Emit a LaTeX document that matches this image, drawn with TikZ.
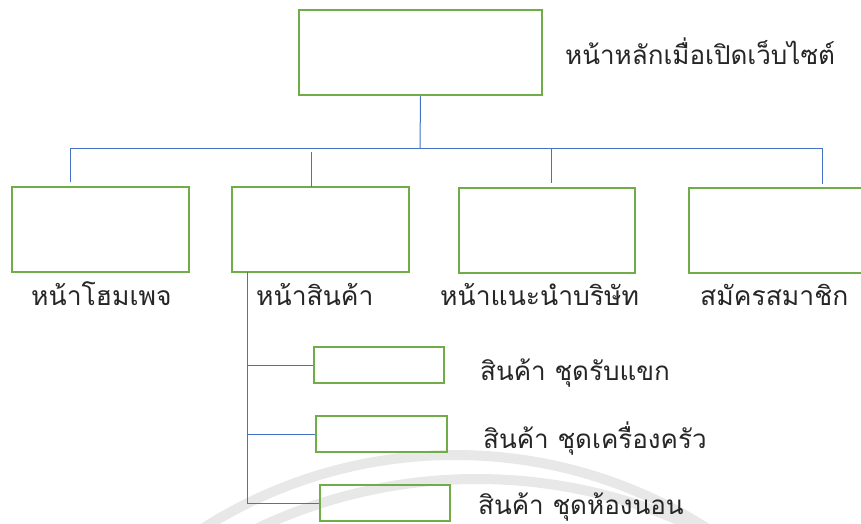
\documentclass[tikz,border=0pt]{standalone}
\usepackage{fontspec}
\newfontfamily\thaifont[Script=Thai]{Loma}
\definecolor{boxgreen}{HTML}{70AD47}
\definecolor{linkblue}{HTML}{4472C4}
\definecolor{wmgray}{HTML}{E8E8E8}
\tikzset{
  pbox/.style 2 args={draw=boxgreen, line width=2.5pt, minimum width=#1pt, minimum height=#2pt, inner sep=0pt},
  conn/.style={draw=linkblue, line width=1pt},
  lbl/.style={font=\thaifont\fontsize{26}{30}\selectfont, inner sep=0pt, anchor=base west, text=black!85},
  rowlbl/.style={lbl, font=\thaifont\fontsize{26.5}{30}\selectfont},
  wm/.style={draw=wmgray, line width=10pt}
}
\begin{document}
\begin{tikzpicture}[x=1pt,y=-1pt]
\useasboundingbox (0,0) rectangle (861,524);
\clip (0,0) rectangle (861,524);
% watermark arcs
\draw[wm] (455,924) circle (469pt);
\draw[wm] (477,991) circle (512pt);
% boxes
\node[pbox={243}{85}] (top) at (420.5,52.5) {};
\node[pbox={177}{85}] (b1) at (100.5,229.5) {};
\node[pbox={177}{85}] (b2) at (320.5,229.5) {};
\node[pbox={176}{85}] (b3) at (547,230.5) {};
\node[pbox={177}{85}] (b4) at (777.5,230.5) {};
\node[pbox={130}{36}] (s1) at (379,365) {};
\node[pbox={131}{36}] (s2) at (381.5,434) {};
\node[pbox={130}{36}] (s3) at (385,503) {};
% connectors
\coordinate (hub) at (420,148);
\coordinate (bl) at (70,148);
\coordinate (br) at (822,148);
\coordinate (d1) at (70,182);
\coordinate (d2a) at (311,152);
\coordinate (d2) at (311,187);
\coordinate (d3a) at (551,148);
\coordinate (d3) at (551,183);
\coordinate (d4) at (822,184);
\draw[conn] (top.south) -- (hub);
\draw[conn] (bl) -- (br);
\draw[conn] (bl) -- (d1);
\draw[conn] (d2a) -- (d2);
\draw[conn] (d3a) -- (d3);
\draw[conn] (br) -- (d4);
\coordinate (trunk) at (247,272);
\coordinate (trunkend) at (247,504);
\draw[conn] (trunk) -- (trunkend);
\draw[conn] (trunk |- s1.west) -- (s1.west);
\draw[conn] (trunk |- s2.west) -- (s2.west);
\draw[conn] (trunk |- s3.west) -- (s3.west);
% labels
\node[lbl] (ttop) at (565,65) {หน้าหลักเมื่อเปิดเว็บไซต์};
\node[rowlbl] (t1) at (31,305) {หน้าโฮมเพจ};
\node[rowlbl] (t2) at (256,305) {หน้าสินค้า};
\node[rowlbl] (t3) at (440,305) {หน้าแนะนำบริษัท};
\node[rowlbl] (t4) at (700,305) {สมัครสมาชิก};
\node[lbl] (u1) at (480,380) {สินค้า ชุดรับแขก};
\node[lbl] (u2) at (483,448) {สินค้า ชุดเครื่องครัว};
\node[lbl] (u3) at (478,514) {สินค้า ชุดห้องนอน};
\end{tikzpicture}
\end{document}
